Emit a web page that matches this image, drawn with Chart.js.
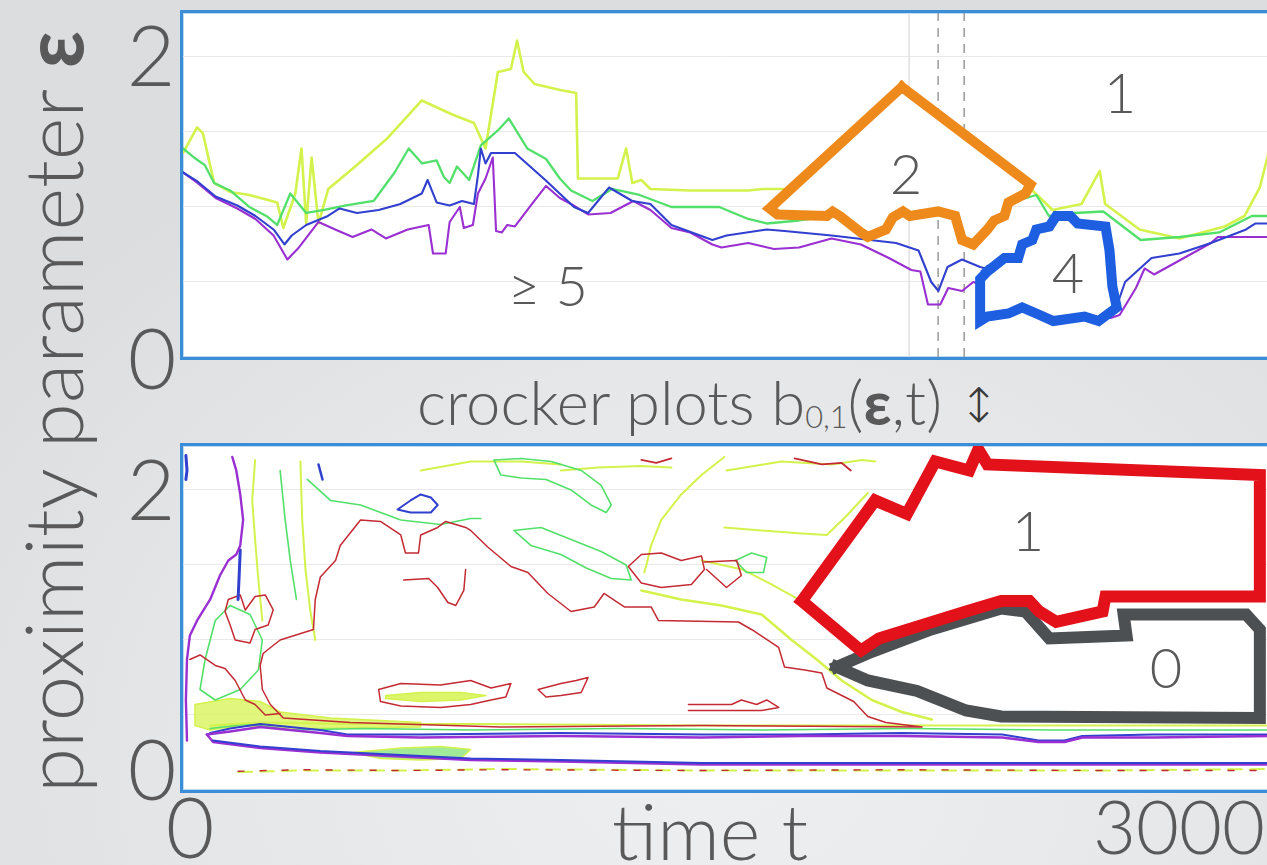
<!DOCTYPE html>
<html>
<head>
<meta charset="utf-8">
<script src="https://cdn.jsdelivr.net/npm/chart.js@4/dist/chart.umd.min.js"></script>
<style>
  html, body { margin: 0; padding: 0; width: 1267px; height: 865px; overflow: hidden; }
  body {
    position: relative;
    background: radial-gradient(ellipse 900px 700px at 720px 760px, #eeeff1 0%, #e6e7e9 55%, #dcdddf 100%);
    font-family: "Lato", "Open Sans", sans-serif;
    font-weight: 300;
    color: #595959;
  }
  .panel {
    position: absolute; left: 180px; width: 1100px; height: 344px;
    border: 3px solid #3b8dd8; background: #fff;
    box-shadow: inset 0 0 0 1px #bcdcf4;
  }
  .panel canvas { position: absolute; left: 0; top: 0; }
  .t { position: absolute; white-space: nowrap; line-height: 1; transform: translate(-50%, -50%); }
  .t b { font-weight: 700; }
  .sub { font-size: 0.5em; vertical-align: -0.12em; }
  .arrow { font-family: "DejaVu Sans", sans-serif; font-size: 0.78em; color: #3a3a3a; vertical-align: 0.06em; }
</style>
</head>
<body>
<div class="panel" style="top:10px"><canvas id="topChart" width="1087" height="344"></canvas></div>
<div class="panel" style="top:443px"><canvas id="bottomChart" width="1087" height="344"></canvas></div>

<div class="t" id="yTitle">proximity parameter <b>ε</b></div>
<div class="t" id="midTitle">crocker plots b<span class="sub">0,1</span>(<b>ε</b>,t) <span class="arrow">↕</span></div>
<div class="t" id="xTitle">time t</div>

<script>
// ---- axis range and tick labels ----
const timeRange = [0, 3000];
const epsRange = [0, 2.293];
const epsTickLabels = ["2", "0"];
const timeTickLabels = ["0", "3000"];

// ---- upper panel: contour lines of the Betti curve b0(eps, t) ----
const topLime = [[0,1.36],[39,1.53],[55,1.49],[86,1.16],[130,1.10],[183,1.08],[260,1.03],[277,0.86],[310,1.09],[327,1.39],[340,0.89],[355,1.33],[374,0.89],[401,1.12],[480,1.28],[565,1.46],[659,1.71],[740,1.62],[803,1.56],[835,1.39],[869,1.90],[905,1.92],[922,2.11],[940,1.90],[970,1.82],[1041,1.78],[1085,1.76],[1090,1.19],[1200,1.19],[1223,1.39],[1240,1.16],[1265,1.18],[1290,1.12],[1400,1.11],[1481,1.11],[1560,1.11],[1600,1.12],[2340,1.12],[2400,0.98],[2480,1.02],[2530,1.24],[2545,1.02],[2640,0.85],[2750,0.79],[2875,0.87],[2930,0.94],[2972,1.13],[3000,1.40]];
const topGreen = [[0,1.39],[30,1.33],[60,1.28],[86,1.16],[130,1.11],[183,1.00],[230,0.94],[260,0.88],[296,1.09],[340,0.96],[390,0.98],[450,1.01],[526,1.04],[584,1.23],[623,1.39],[660,1.29],[700,1.31],[720,1.20],[736,1.16],[756,1.27],[790,1.18],[822,1.41],[869,1.51],[899,1.59],[950,1.39],[1002,1.32],[1040,1.19],[1071,1.11],[1130,1.04],[1184,1.12],[1260,1.08],[1348,1.00],[1480,1.00],[1560,0.92],[1611,0.89],[1700,0.91],[1800,0.94],[2300,1.04],[2355,1.08],[2390,0.94],[2460,0.96],[2540,0.97],[2643,0.78],[2750,0.80],[2860,0.83],[2950,0.94],[3000,0.94]];
const topBlue = [[0,1.23],[40,1.17],[90,1.07],[150,1.01],[200,0.94],[250,0.85],[280,0.75],[300,0.81],[340,0.88],[400,0.94],[432,0.99],[480,0.96],[540,0.98],[600,1.02],[659,1.09],[675,1.18],[700,1.03],[736,1.01],[770,1.04],[803,1.02],[814,1.21],[822,1.39],[835,1.29],[850,1.36],[916,1.36],[1000,1.18],[1079,1.00],[1118,0.96],[1176,1.13],[1240,1.04],[1290,1.02],[1348,0.88],[1461,0.78],[1500,0.81],[1611,0.85],[1660,0.84],[1790,0.81],[1968,0.76],[2030,0.71],[2065,0.50],[2085,0.44],[2110,0.60],[2150,0.65],[2200,0.60],[2580,0.36],[2600,0.50],[2673,0.66],[2750,0.69],[2837,0.76],[2934,0.85],[2960,0.89],[3000,0.89]];
const topPurple = [[0,1.23],[40,1.16],[90,1.06],[150,0.99],[200,0.92],[250,0.81],[288,0.65],[320,0.73],[374,0.90],[420,0.85],[468,0.80],[520,0.85],[560,0.79],[620,0.85],[678,0.88],[690,0.69],[725,0.69],[736,0.90],[764,1.00],[775,0.86],[800,0.88],[814,1.09],[835,1.19],[855,1.33],[864,0.84],[880,0.83],[895,0.88],[916,0.87],[960,1.01],[1002,1.14],[1040,1.06],[1071,1.02],[1118,0.95],[1180,0.96],[1243,1.04],[1290,0.98],[1348,0.86],[1400,0.83],[1461,0.75],[1486,0.73],[1560,0.76],[1631,0.72],[1700,0.73],[1790,0.79],[1871,0.75],[1948,0.66],[2010,0.58],[2035,0.57],[2056,0.35],[2090,0.35],[2112,0.46],[2150,0.44],[2181,0.50],[2230,0.46],[2300,0.34],[2450,0.28],[2560,0.26],[2585,0.28],[2630,0.46],[2654,0.59],[2680,0.55],[2740,0.63],[2837,0.76],[2856,0.80],[3000,0.80]];

// highlighted regions in the upper panel (b0 = 2 and b0 = 4)
const regionTwo = [[1984,1.80],[2339,1.15],[2325,1.09],[2278,1.03],[2267,0.94],[2239,0.91],[2220,0.85],[2181,0.75],[2150,0.78],[2131,0.94],[2084,0.97],[2006,0.94],[1987,0.97],[1959,0.93],[1940,0.85],[1890,0.80],[1871,0.83],[1813,0.94],[1793,0.97],[1777,0.94],[1641,0.95],[1619,0.99],[1984,1.80]];
const regionFour = [[2220,0.57],[2267,0.66],[2305,0.66],[2316,0.75],[2344,0.78],[2355,0.85],[2391,0.87],[2410,0.94],[2449,0.94],[2469,0.89],[2546,0.87],[2557,0.71],[2565,0.47],[2577,0.33],[2527,0.24],[2488,0.27],[2402,0.24],[2355,0.29],[2316,0.33],[2278,0.29],[2220,0.27],[2200,0.24],[2200,0.52],[2220,0.57]];

// time markers in the upper panel
const markerSolid = [[2004,0],[2004,2.293]];
const markerDashA = [[2084,0],[2084,2.293]];
const markerDashB = [[2156,0],[2156,2.293]];

// ---- lower panel: crocker plot contours ----
const redMain = [[277,0.48],[241,0.57],[219,0.67],[213,0.83],[221,0.91],[268,1.00],[360,1.07],[365,1.27],[379,1.42],[421,1.53],[434,1.63],[490,1.80],[545,1.79],[601,1.70],[614,1.58],[650,1.58],[656,1.70],[703,1.75],[725,1.79],[780,1.75],[794,1.73],[841,1.62],[905,1.49],[952,1.45],[1007,1.31],[1071,1.19],[1135,1.22],[1162,1.31],[1218,1.22],[1292,1.22],[1312,1.13],[1533,1.12],[1569,1.07],[1644,0.95],[1660,0.82],[1716,0.80],[1763,0.78],[1777,0.68],[1851,0.59],[1890,0.49],[1940,0.45],[2040,0.42],[1431,0.43],[877,0.42],[462,0.45],[277,0.48]];
const redLoopA = [[125,1.27],[158,1.30],[172,1.20],[199,1.29],[227,1.30],[249,1.20],[235,1.10],[199,1.07],[185,0.98],[144,1.00],[130,1.10],[116,1.19],[125,1.27]];
const redLoopB = [[1229,1.49],[1265,1.57],[1320,1.58],[1375,1.53],[1431,1.56],[1439,1.47],[1403,1.37],[1320,1.35],[1265,1.38],[1229,1.49]];
const redLoopC = [[1439,1.52],[1528,1.53],[1541,1.43],[1500,1.35],[1445,1.47]];
const redTrace = [[609,1.40],[678,1.41],[703,1.35],[731,1.25],[753,1.23],[775,1.33],[780,1.47]];
const redLoopE = [[540,0.67],[601,0.71],[711,0.70],[794,0.73],[850,0.68],[905,0.71],[891,0.62],[850,0.60],[794,0.57],[711,0.55],[601,0.56],[545,0.59],[540,0.67]];
const redLoopF = [[980,0.67],[1043,0.71],[1085,0.73],[1118,0.75],[1099,0.65],[1043,0.63],[1002,0.62],[980,0.67]];
const redLoopG = [[1395,0.57],[1514,0.57],[1541,0.60],[1583,0.57],[1611,0.60],[1644,0.55],[1597,0.53],[1395,0.53]];
const redLeft = [[19,0.87],[47,0.90],[89,0.83],[116,0.81],[144,0.73],[172,0.60],[199,0.57],[227,0.50],[268,0.51]];
const redTopA = [[1265,2.20],[1306,2.18],[1348,2.21]];
const redTopB = [[1688,2.21],[1763,2.17],[1818,2.18],[1843,2.13]];

const leftPurple = [[136,2.22],[147,2.13],[158,1.97],[166,1.80],[158,1.63],[147,1.57],[125,1.53],[102,1.43],[75,1.27],[39,1.13],[19,1.03],[11,0.87],[8,0.60],[11,0.33]];
const leftBlue = [[158,1.60],[155,1.43],[152,1.27]];
const leftEdgeBlue = [[8,2.23],[11,2.13],[8,2.07]];
const blueTopLoop = [[592,1.87],[628,1.93],[656,1.97],[684,1.95],[703,1.90],[684,1.85],[628,1.85],[592,1.87]];
const blueSpecks = [[374,2.17],[385,2.07]];

const greenA = [[858,2.20],[933,2.21],[1016,2.19],[1099,2.13],[1154,2.03],[1182,1.90],[1168,1.85],[1126,1.90],[1071,2.00],[1002,2.07],[933,2.08],[877,2.10],[858,2.20]];
const greenB = [[913,1.73],[988,1.75],[1071,1.67],[1154,1.59],[1223,1.50],[1237,1.40],[1182,1.41],[1113,1.48],[1043,1.57],[960,1.63],[913,1.73]];
const greenC = [[343,2.07],[407,1.93],[490,1.90],[601,1.80],[711,1.77],[794,1.81],[822,1.81]];
const greenD = [[89,1.13],[130,1.23],[185,1.17],[219,1.00],[208,0.80],[158,0.67],[89,0.60],[47,0.67],[61,0.87],[89,1.13]];
const greenE = [[1525,1.53],[1569,1.58],[1611,1.55],[1602,1.45],[1555,1.45],[1525,1.53]];
const greenG = [[268,2.13],[282,1.80],[296,1.53],[313,1.27]];

const limeA = [[1494,2.22],[1431,2.10],[1375,1.97],[1320,1.80],[1292,1.63],[1279,1.50],[1273,1.45]];
const limeB = [[1043,2.13],[1146,2.15],[1265,2.16],[1348,2.15]];
const limeC = [[1500,2.13],[1652,2.19],[1791,2.17],[1874,2.20],[1910,2.19]];
const limeD = [[1494,1.75],[1597,1.73],[1708,1.71],[1777,1.70],[1832,1.83],[1890,1.98]];
const limeE = [[1431,1.53],[1544,1.47],[1624,1.37],[1699,1.27]];
const limeF = [[1265,1.33],[1375,1.27],[1486,1.23],[1597,1.17],[1680,1.00],[1749,0.87],[1818,0.73],[1901,0.60],[1984,0.52],[2067,0.47]];
const limeG = [[199,2.20],[191,1.93],[199,1.67],[208,1.40],[219,1.13]];
const limeH = [[324,2.19],[329,1.80],[338,1.47],[351,1.20],[365,1.00]];
const limeI = [[656,2.13],[794,2.19],[933,2.19],[1043,2.17]];
const limePatch = [[559,0.63],[656,0.65],[767,0.65],[836,0.63],[767,0.60],[656,0.59],[559,0.61],[559,0.63]];
const limeBandLeft = [[33,0.57],[130,0.61],[213,0.59],[268,0.52],[407,0.48],[656,0.45],[656,0.42],[324,0.41],[158,0.43],[75,0.40],[33,0.43],[33,0.57]];
const limeBlobLow = [[470,0.25],[601,0.28],[711,0.29],[794,0.27],[767,0.21],[656,0.20],[545,0.21],[470,0.25]];

const bandLime = [[75,0.43],[213,0.45],[454,0.44],[800,0.44],[1431,0.43],[1984,0.43],[2300,0.43],[3000,0.43]];
const bandGreen = [[75,0.41],[180,0.44],[300,0.40],[500,0.41],[800,0.40],[1200,0.41],[1600,0.40],[2000,0.41],[2400,0.40],[3000,0.40]];
const bandBlue = [[75,0.38],[130,0.41],[213,0.44],[296,0.42],[379,0.40],[454,0.37],[656,0.37],[1043,0.38],[1431,0.37],[1708,0.37],[1984,0.38],[2261,0.37],[2361,0.33],[2433,0.33],[2482,0.36],[2676,0.37],[3000,0.37]];
const bandPurple = [[66,0.37],[130,0.39],[213,0.42],[296,0.40],[379,0.38],[454,0.36],[656,0.35],[1043,0.36],[1431,0.35],[1708,0.36],[1984,0.36],[2261,0.35],[2361,0.32],[2433,0.32],[2482,0.35],[2676,0.35],[3000,0.36]];
const lowerPurple = [[66,0.37],[83,0.32],[213,0.28],[379,0.25],[545,0.23],[794,0.20],[1043,0.19],[1431,0.17],[1984,0.17],[3000,0.17]];
const lowerBlue = [[83,0.33],[213,0.29],[379,0.26],[545,0.24],[794,0.21],[1043,0.20],[1431,0.18],[3000,0.18]];
const lowestLime = [[152,0.12],[324,0.13],[601,0.13],[877,0.14],[1431,0.13],[1984,0.13],[2538,0.13],[3000,0.14]];
const lowestRed = [[152,0.125],[324,0.135],[601,0.13],[877,0.135],[1431,0.13],[1984,0.135],[2538,0.13],[3000,0.13]];

// highlighted regions in the lower panel (b1 = 1 and b1 = 0)
const regionOne = [[1708,1.26],[1910,1.93],[1998,1.84],[2076,2.19],[2170,2.13],[2195,2.27],[2220,2.17],[2972,2.10],[2972,1.29],[2546,1.29],[2538,1.19],[2410,1.12],[2363,1.19],[2336,1.26],[2258,1.26],[2161,1.19],[1921,1.01],[1871,0.93],[1708,1.26]];
const regionZero = [[1804,0.82],[1890,0.91],[2065,1.07],[2258,1.21],[2325,1.19],[2391,1.01],[2604,1.03],[2596,1.17],[2934,1.17],[2972,1.07],[2972,0.48],[2258,0.49],[2161,0.53],[2026,0.66],[1890,0.73],[1804,0.82]];

// ---- colours ----
const C = {
  lime: "#d3f24c", green: "#52e06a", blue: "#3140cf", purple: "#9a2fd2",
  red: "#c42a33", orange: "#ee8a1c", blueBold: "#1d5fe0", redBold: "#e2111a", grey: "#4c5053"
};

function line(points, color, width, extra) {
  return Object.assign({
    data: points.map(p => ({ x: p[0], y: p[1] })),
    borderColor: color, borderWidth: width, pointRadius: 0, pointHoverRadius: 0,
    fill: false, tension: 0, borderJoinStyle: "round", borderCapStyle: "round", order: 5
  }, extra || {});
}
function region(points, color, width) {
  return line(points, color, width, { fill: "shape", backgroundColor: "#ffffff", order: 1, borderJoinStyle: "miter", borderCapStyle: "square" });
}

function options() {
  return {
    responsive: false, animation: false, events: [],
    layout: { padding: 0, autoPadding: false },
    plugins: { legend: { display: false }, tooltip: { enabled: false }, filler: { drawTime: "beforeDatasetDraw" } },
    scales: {
      x: {
        type: "linear", min: timeRange[0], max: timeRange[1],
        grid: { display: false }, ticks: { display: false }, border: { display: false },
        afterFit: s => { s.height = 0; }
      },
      y: {
        type: "linear", min: epsRange[0], max: epsRange[1],
        ticks: { display: false, stepSize: 0.5 },
        grid: { drawTicks: false, lineWidth: 1, color: c => (Math.abs(c.tick.value * 2 - Math.round(c.tick.value * 2)) < 1e-6 ? "#e9e9e9" : "rgba(0,0,0,0)") },
        border: { display: false },
        afterFit: s => { s.width = 0; }
      }
    }
  };
}

new Chart(document.getElementById("topChart"), {
  type: "line",
  data: {
    datasets: [
      line(markerSolid, "#dadada", 1.2, { order: 9 }),
      line(markerDashA, "#9a9a9a", 1.5, { borderDash: [9, 7], borderCapStyle: "butt", order: 9 }),
      line(markerDashB, "#9a9a9a", 1.5, { borderDash: [9, 7], borderCapStyle: "butt", order: 9 }),
      line(topLime, C.lime, 2.6, { order: 8 }),
      line(topGreen, C.green, 2.3, { order: 7 }),
      line(topPurple, C.purple, 2.1, { order: 6 }),
      line(topBlue, C.blue, 2.1, { order: 5 }),
      region(regionTwo, C.orange, 10),
      region(regionFour, C.blueBold, 10)
    ]
  },
  options: options()
});

new Chart(document.getElementById("bottomChart"), {
  type: "line",
  data: {
    datasets: [
      line(limeBandLeft, C.lime, 1.5, { fill: "shape", backgroundColor: "rgba(214,243,80,0.75)", order: 9 }),
      line(limeBlobLow, C.lime, 1.5, { fill: "shape", backgroundColor: "rgba(120,225,110,0.7)", order: 9 }),
      line(limePatch, C.lime, 1.5, { fill: "shape", backgroundColor: "rgba(214,243,80,0.85)", order: 9 }),
      line(limeA, C.lime, 2, { order: 8 }), line(limeB, C.lime, 2, { order: 8 }), line(limeC, C.lime, 2, { order: 8 }),
      line(limeD, C.lime, 2, { order: 8 }), line(limeE, C.lime, 2, { order: 8 }), line(limeF, C.lime, 2.5, { order: 8 }),
      line(limeG, C.lime, 2, { order: 8 }), line(limeH, C.lime, 2, { order: 8 }), line(limeI, C.lime, 2, { order: 8 }),
      line(greenA, C.green, 1.6, { order: 7 }), line(greenB, C.green, 1.6, { order: 7 }), line(greenC, C.green, 1.6, { order: 7 }),
      line(greenD, C.green, 1.6, { order: 7 }), line(greenE, C.green, 1.6, { order: 7 }), line(greenG, C.green, 1.6, { order: 7 }),
      line(bandLime, C.lime, 2, { order: 7 }), line(bandGreen, C.green, 1.6, { order: 7 }),
      line(lowestLime, C.lime, 2, { borderDash: [14, 8], order: 7 }),
      line(lowestRed, C.red, 1.4, { borderDash: [6, 16], order: 6 }),
      line(redMain, C.red, 1.5), line(redLoopA, C.red, 1.5), line(redLoopB, C.red, 1.5), line(redLoopC, C.red, 1.5),
      line(redTrace, C.red, 1.5), line(redLoopE, C.red, 1.5), line(redLoopF, C.red, 1.5), line(redLoopG, C.red, 1.5),
      line(redLeft, C.red, 1.5), line(redTopA, C.red, 1.8), line(redTopB, C.red, 1.8),
      line(leftPurple, C.purple, 2.4, { order: 4 }), line(leftBlue, C.blue, 3, { order: 4 }), line(leftEdgeBlue, C.blue, 3, { order: 4 }),
      line(blueTopLoop, C.blue, 2, { order: 4 }), line(blueSpecks, C.blue, 2.5, { order: 4 }),
      line(bandPurple, C.purple, 2.5, { order: 4 }), line(bandBlue, C.blue, 2.2, { order: 4 }),
      line(lowerBlue, C.blue, 2, { order: 4 }), line(lowerPurple, C.purple, 2.5, { order: 4 }),
      region(regionOne, C.redBold, 12),
      region(regionZero, C.grey, 12)
    ]
  },
  options: options()
});

// ---- text labels ----
function addText(html, cx, cy, size) {
  const el = document.createElement("div");
  el.className = "t";
  el.innerHTML = html;
  el.style.left = cx + "px";
  el.style.top = cy + "px";
  el.style.fontSize = size + "px";
  document.body.appendChild(el);
  return el;
}
function fitWidth(el, width) {
  el.style.fontSize = "100px";
  const w = el.getBoundingClientRect().width;
  el.style.fontSize = (100 * width / w) + "px";
}
function place(el, cx, cy, rotate) {
  el.style.left = cx + "px";
  el.style.top = cy + "px";
  el.style.transform = "translate(-50%, -50%)" + (rotate ? " rotate(-90deg)" : "");
}

function layoutText() {
  // eps tick labels of both panels
  addText(epsTickLabels[0], 151, 54, 84);
  addText(epsTickLabels[1], 152, 357, 84);
  addText(epsTickLabels[0], 151, 488, 84);
  addText(epsTickLabels[1], 152, 768, 84);
  // time tick labels
  addText(timeTickLabels[0], 190, 826, 84);
  const tMax = addText(timeTickLabels[1], 1178, 826, 84);
  fitWidth(tMax, 172);
  place(tMax, 1179, 826, false);

  // region counts
  addText("2", 906, 173, 56);
  addText("4", 1068, 272, 56);
  addText("1", 1120, 92, 56);
  addText("≥ 5", 548, 285, 56);
  addText("1", 1028, 530, 56);
  addText("0", 1166, 667, 56);

  const yTitle = document.getElementById("yTitle");
  fitWidth(yTitle, 762);
  place(yTitle, 52, 412, true);

  const midTitle = document.getElementById("midTitle");
  fitWidth(midTitle, 582);
  place(midTitle, 708, 402, false);

  const xTitle = document.getElementById("xTitle");
  fitWidth(xTitle, 196);
  place(xTitle, 710, 831, false);
}
if (document.fonts && document.fonts.ready) document.fonts.ready.then(layoutText); else layoutText();
</script>
</body>
</html>
